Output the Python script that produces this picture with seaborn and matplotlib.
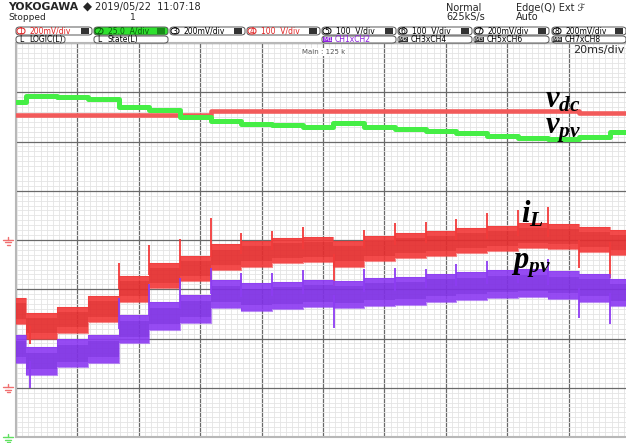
import numpy as np
import matplotlib
matplotlib.use("Agg")
import matplotlib.pyplot as plt
from matplotlib.patches import FancyBboxPatch, Rectangle
from matplotlib.lines import Line2D
from matplotlib.ticker import MultipleLocator
import seaborn as sns

# 20 ms/div, 10 div across; vertical values are in divisions (-4 .. 4)
seg_start = [0, 3.4, 13.4, 23.4, 33.4, 43.4, 53.4, 63.4, 73.4, 83.4, 93.4,
             103.4, 113.4, 123.4, 133.4, 143.4, 153.4, 163.4, 173.4, 183.4, 193.4]
t_end = 200

vdc_t = [0, 63.4, 183.4]
vdc_lvl = [2.54, 2.61, 2.57]

vpv_lvl = [2.81, 2.93, 2.91, 2.87, 2.70, 2.64, 2.50, 2.42, 2.36, 2.34, 2.30,
           2.38, 2.30, 2.26, 2.21, 2.17, 2.11, 2.07, 2.05, 2.09, 2.19]

il_lvl = [-1.44, -1.74, -1.62, -1.40, -0.99, -0.72, -0.58, -0.35, -0.28, -0.21, -0.19,
          -0.28, -0.17, -0.11, -0.07, -0.01, 0.03, 0.09, 0.07, 0.01, -0.05]

ppv_lvl = [-2.21, -2.46, -2.30, -2.21, -1.81, -1.54, -1.40, -1.10, -1.16, -1.13, -1.09,
           -1.11, -1.05, -1.03, -0.97, -0.93, -0.89, -0.87, -0.91, -0.97, -1.07]

spike_t = [4.5, 33.4, 43.4, 53.4, 63.4, 73.4, 83.4, 93.4, 103.6, 113.4,
           123.4, 133.4, 143.4, 153.4, 163.4, 173.4, 183.4, 193.4]
il_spike = [-2.11, -0.46, -0.10, 0.03, 0.44, 0.15, 0.19, 0.26, -0.93, 0.21,
            0.34, 0.36, 0.42, 0.54, 0.60, 0.66, -0.56, -0.77]
ppv_spike = [-3.01, -1.17, -0.89, -0.77, -0.56, -0.68, -0.66, -0.60, -1.79, -0.58,
             -0.56, -0.58, -0.48, -0.42, -0.38, -0.38, -1.58, -1.70]

W, H = 626, 443
RED = '#f23a3a'
RED_CORE = '#b80f12'
PURPLE = '#8d3cf2'
PURPLE_CORE = '#5512b8'
GREEN = '#45ee45'

sns.set_theme(style="white")
plt.rcParams['font.family'] = ['DejaVu Sans']
plt.rcParams['mathtext.fontset'] = 'custom'
plt.rcParams['mathtext.it'] = 'Liberation Serif:italic:bold'
plt.rcParams['mathtext.rm'] = 'Liberation Serif:bold'

fig = plt.figure(figsize=(W / 100, H / 100), dpi=100)
fig.patch.set_facecolor('white')
ax = fig.add_axes([16 / W, 6 / H, 614 / W, 394 / H])


def step_xy(levels):
    x = np.array(seg_start + [t_end], dtype=float)
    y = np.array(levels + [levels[-1]], dtype=float)
    return x, y


def band(levels, spikes, half, color, core):
    x, y = step_xy(levels)
    ax.fill_between(x, y - half, y + half, step='post', color=color, lw=0, alpha=0.92, zorder=3)
    ax.fill_between(x, y - half * 0.6, y + half * 0.6, step='post', color=core, lw=0,
                    alpha=0.22, zorder=3)
    # thin hairs along the band edges
    sns.lineplot(x=x, y=y + half, drawstyle='steps-post', estimator=None, color=color,
                 lw=0.8, alpha=0.6, ax=ax, zorder=3)
    sns.lineplot(x=x, y=y - half, drawstyle='steps-post', estimator=None, color=color,
                 lw=0.8, alpha=0.6, ax=ax, zorder=3)
    base = y[np.searchsorted(x, spike_t, side='right') - 1]
    ax.vlines(spike_t, base, spikes, color=color, lw=1.3, zorder=3)


# grid
ax.set_xlim(0, 200)
ax.set_ylim(-4, 4)
ax.xaxis.set_major_locator(MultipleLocator(20))
ax.xaxis.set_minor_locator(MultipleLocator(2))
ax.yaxis.set_major_locator(MultipleLocator(1))
ax.yaxis.set_minor_locator(MultipleLocator(0.1))
ax.grid(which='minor', color='#e4e4e4', lw=0.6)
ax.grid(which='major', color='#6a6a6a', lw=0.9)
ax.set_axisbelow(True)
ax.tick_params(which='both', length=0, labelbottom=False, labelleft=False)
ax.set_xlabel('')
ax.set_ylabel('')
for s in ax.spines.values():
    s.set_color('#b8b8b8')
    s.set_linewidth(1.5)

# traces
vx = np.array(vdc_t + [t_end], dtype=float)
vy = np.array(vdc_lvl + [vdc_lvl[-1]])
sns.lineplot(x=vx, y=vy, drawstyle='steps-post', estimator=None, color='#f25a5a',
             lw=3.3, ax=ax, zorder=4)
gx, gy = step_xy(vpv_lvl)
sns.lineplot(x=gx, y=gy, drawstyle='steps-post', estimator=None, color=GREEN,
             lw=3.6, ax=ax, zorder=4)

band(il_lvl, il_spike, 0.26, RED, RED_CORE)
band(ppv_lvl, ppv_spike, 0.28, PURPLE, PURPLE_CORE)

# trace labels
lab = dict(fontsize=22, color='black', ha='left', va='baseline', zorder=6)
ax.text(172.3, 2.70, r'$v_{dc}$', **lab)
ax.text(172.3, 2.17, r'$v_{pv}$', **lab)
ax.text(164.5, 0.36, r'$i_{L}$', **lab)
ax.text(161.2, -0.58, r'$p_{pv}$', **lab)

ax.text(0.466, 0.985, 'Main : 125 k', transform=ax.transAxes, fontsize=5, color='#555555',
        ha='left', va='top', zorder=6,
        bbox=dict(facecolor='white', edgecolor='none', pad=0.5))


# header (pixel coordinates)
def fx(x):
    return x / W


def fy(y):
    return 1 - y / H


def ftext(x, y, s, **kw):
    kw.setdefault('fontsize', 6.5)
    kw.setdefault('va', 'center')
    kw.setdefault('ha', 'left')
    fig.text(fx(x), fy(y), s, **kw)


ftext(8, 7, 'YOKOGAWA', fontsize=7.8, fontweight='bold')
ftext(83, 7, '\u25c6', fontsize=8.5)
ftext(95, 7, '2019/05/22  11:07:18', fontsize=7)
ftext(8, 18, 'Stopped', fontsize=6.5)
ftext(133, 18, '1', fontsize=6.5, ha='center')
ftext(446, 8, 'Normal', fontsize=7)
ftext(446, 17, '625kS/s', fontsize=7)
ftext(516, 8, 'Edge(Q) Ext \u2131', fontsize=7)
ftext(516, 17, 'Auto', fontsize=7)
ftext(625, 50, '20ms/div', fontsize=8, ha='right')


def box(x0, x1, y0, y1, fill='white', edge='#555555'):
    p = FancyBboxPatch((fx(x0), fy(y1)), fx(x1) - fx(x0), fy(y0) - fy(y1),
                       boxstyle='round,pad=0,rounding_size=0.006',
                       transform=fig.transFigure, facecolor=fill, edgecolor=edge, lw=0.7)
    fig.add_artist(p)


row1 = [(16, 92, '1', '200mV/div', '#e02020', 'white'),
        (94, 168, '2', '25.0  A/div', '#0a5a0a', '#2ee02e'),
        (170, 245, '3', '200mV/div', 'black', 'white'),
        (247, 320, '4', '100  V/div', '#e02020', 'white'),
        (322, 396, '5', '100  V/div', 'black', 'white'),
        (398, 472, '6', '100  V/div', 'black', 'white'),
        (474, 549, '7', '200mV/div', 'black', 'white'),
        (552, 626, '8', '200mV/div', 'black', 'white')]
for x0, x1, n, s, c, f in row1:
    box(x0, x1, 27, 35, fill=f)
    box(x0 + 1, x0 + 9, 28, 34, fill=f, edge=c)
    ftext(x0 + 5, 31, n, fontsize=5.5, color=c, ha='center')
    ftext(x0 + 14, 31, s, fontsize=5.5, color=c)
    fig.add_artist(Rectangle((fx(x1 - 11), fy(34)), 8 / W, 6 / H, transform=fig.transFigure,
                             facecolor='#333333' if f == 'white' else '#1a8a1a', lw=0))

row2 = [(16, 65, 'L', 'LOGIC(L)', 'black'),
        (94, 168, 'L', 'State(L)', 'black'),
        (322, 396, 'M1', 'CH1xCH2', '#9020e0'),
        (398, 472, 'M2', 'CH3xCH4', 'black'),
        (474, 549, 'M3', 'CH5xCH6', 'black'),
        (552, 626, 'M4', 'CH7xCH8', 'black')]
for x0, x1, n, s, c in row2:
    box(x0, x1, 36, 43)
    if n.startswith('M'):
        fig.add_artist(Rectangle((fx(x0 + 1), fy(42)), 9 / W, 5 / H, transform=fig.transFigure,
                                 facecolor=c if c != 'black' else '#333333', lw=0))
        ftext(x0 + 5.5, 39.5, n, fontsize=4.5, color='white', ha='center')
    else:
        ftext(x0 + 5, 39.5, n, fontsize=5.5, color='black', ha='center')
    ftext(x0 + 13, 39.5, s, fontsize=5.5, color=c)


# ground markers on the left edge
def ground(y, color):
    for w, dy in [(10, 0), (6, 2.5), (3, 5)]:
        fig.add_artist(Line2D([fx(8 - w / 2), fx(8 + w / 2)], [fy(y + dy), fy(y + dy)],
                              color=color, lw=1.0, transform=fig.transFigure))
    fig.add_artist(Line2D([fx(8), fx(8)], [fy(y - 3), fy(y)], color=color, lw=1.0,
                          transform=fig.transFigure))


ground(240, '#f07070')
ground(387, '#f07070')
ground(437, '#60e060')

fig.savefig('out.png', dpi=100, facecolor='white')
